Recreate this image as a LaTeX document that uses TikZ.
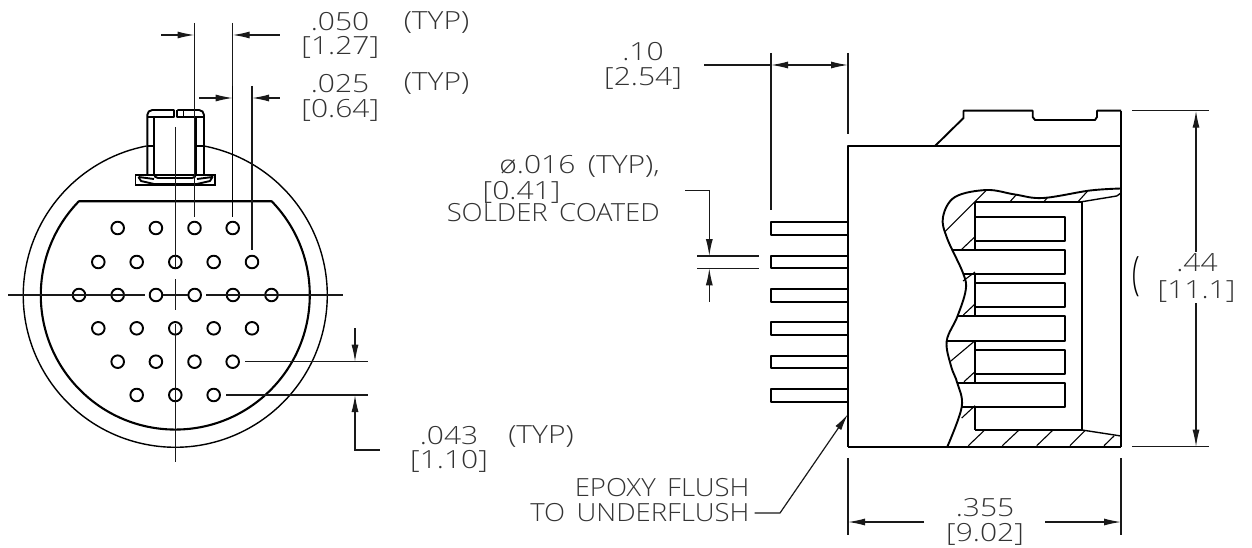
\documentclass[tikz,border=0pt]{standalone}
\usepackage{fontspec}
\setmainfont[UprightFont=* Light, FakeStretch=1.2, WordSpace=1.6]{Open Sans}
\newfontfamily\notefont[UprightFont=* Light, FakeStretch=1.1, WordSpace=1.6]{Open Sans}
\usetikzlibrary{arrows.meta}
\tikzset{
    part/.style={line width=1.9pt, line join=round},
    thin part/.style={line width=1.4pt},
    hatch/.style={line width=1.1pt},
    dim/.style={line width=1.2pt, black!90},
    txt/.style={inner sep=0pt, text=black!80, font=\fontsize{25}{25}\selectfont},
    note/.style={txt, font=\notefont\fontsize{25}{25}\selectfont},
    >={Latex[length=17pt,width=7pt]}
}
\begin{document}
\begin{tikzpicture}[x=1pt,y=-1pt]
    \useasboundingbox (0,0) rectangle (1252,548);

    % Front view, shell
    \draw[thin part] (204,146) arc[start angle=-79.1, end angle=259.1, radius=152];
    \draw[part, line width=2.1pt] (271.7,201.3) arc[start angle=-44.2, end angle=224.2, radius=134.5] -- cycle;

    % Front view, key
    \draw[part, rounded corners=5pt] (147.3,175)--(147.3,110)--(174.3,110);
    \draw[part, rounded corners=5pt] (204,175)--(204,110)--(177.3,110);
    \draw[part] (154,117)--(174.3,117)--(174.3,110);
    \draw[part] (147.3,117)--(154,117);
    \draw[part] (177.3,110)--(177.3,117)--(204,117);
    \draw[thin part] (183.3,110)--(183.3,117);
    \draw[part, rounded corners=4pt] (154,117)--(154,178)--(196,178)--(196,117);
    \draw[thin part] (147.3,146)--(154,146);
    \draw[thin part] (196,146)--(204,146);
    \draw[thin part] (135.5,175) rectangle (215,185);
    \draw[part] (138.5,177)--(141,181)--(154,184)--(197,184)--(210,181)--(212.5,177)--(197,179);
    \draw[part] (138.5,177)--(154,179);

    % Front view, contacts
    \draw[part] (117.7,228) circle (6.3) (155.9,228) circle (6.3) (194.5,228) circle (6.3) (232.7,228) circle (6.3);
    \draw[part] (98.3,262) circle (6.3) (136.7,262) circle (6.3) (175.3,262) circle (6.3) (213.7,262) circle (6.3) (252,262) circle (6.3);
    \draw[part] (79,295) circle (6.3) (117.7,295) circle (6.3) (156,295) circle (6.3) (194.7,295) circle (6.3) (233,295) circle (6.3) (271.5,295) circle (6.3);
    \draw[part] (98.3,328.3) circle (6.3) (136.7,328.3) circle (6.3) (175.3,328.3) circle (6.3) (213.7,328.3) circle (6.3) (252,328.3) circle (6.3);
    \draw[part] (117.7,361.7) circle (6.3) (155.9,361.7) circle (6.3) (194.5,361.7) circle (6.3) (232.7,361.7) circle (6.3);
    \draw[part] (136.7,395) circle (6.3) (175.3,395) circle (6.3) (213.7,395) circle (6.3);

    % Center lines
    \draw[dim] (8,295)--(145,295);
    \draw[dim] (206,295)--(343,295);
    \draw[dim] (163,295)--(188,295);
    \draw[dim] (175.3,279)--(175.3,310);
    \draw[dim] (175.3,127)--(175.3,268);
    \draw[dim] (175.3,324)--(175.3,462);

    % .050
    \draw[dim] (194.5,23)--(194.5,217);
    \draw[dim] (232.7,23)--(232.7,86);
    \draw[thin part] (232.7,86)--(232.7,217);
    \draw[dim, ->] (161,35)--(194.5,35);
    \draw[dim, ->] (279.5,35)--(232.7,35);
    \node[txt] (dimAin) at (340,22) {.050};
    \node[txt] (dimAmm) at (340.3,47) {[1.27]};
    \node[txt] (dimAtyp) at (436.5,23) {(TYP)};

    % .025
    \draw[dim] (252,86)--(252,250);
    \draw[dim, ->] (199,98)--(232.7,98);
    \draw[dim, ->] (279.5,98)--(252,98);
    \node[txt] (dimBin) at (340,84) {.025};
    \node[txt] (dimBmm) at (340.3,110) {[0.64]};
    \node[txt] (dimBtyp) at (436.5,84) {(TYP)};

    % .043
    \draw[dim] (245,361.7)--(367.5,361.7);
    \draw[dim] (226,395)--(367.5,395);
    \draw[dim, ->] (355,328)--(355,361.7);
    \draw[dim, ->] (379.5,450)--(355,450)--(355,395);
    \node[txt] (dimCin) at (449,436) {.043};
    \node[txt] (dimCmm) at (449,461) {[1.10]};
    \node[txt] (dimCtyp) at (541,437) {(TYP)};

    % Side view, body
    \draw[part] (848,446.7)--(848,146)--(1121,146);
    \draw[part] (848,446.7)--(1121,446.7);
    \draw[thin part] (1121,110.7)--(1121,446.7);
    \draw[part] (935,146)--(963.5,118)--(963.5,110.7)--(1032.7,110.7)--(1032.7,117)--(1035,120)--(1095,120)--(1097,117)--(1097,110.7)--(1121,110.7);

    % Break line
    \draw[part] plot[smooth, tension=.6] coordinates {(1121,188.5) (1090,190.5) (1043,198) (1015,194.5) (986.7,190) (955,197) (943,217) (947,238) (963,273) (965.7,290) (957.3,316.7) (946.7,341) (951,366) (957.3,383) (961.7,407) (947.3,446.7)};

    % Cavity
    \draw[part] (975,201.7)--(1082,201.7)--(1082,430)--(975,430);
    \draw[part] (975,201.7)--(975,250);
    \draw[part] (975,274)--(975,316.3);
    \draw[part] (975,340.7)--(975,383.3);
    \draw[part] (975,407)--(975,430);
    \draw[thin part] (1082,201.7)--(1116.7,196)--(1121,193);
    \draw[thin part] (1082,430)--(1121,436);

    % Pins inside
    \draw[part] (975,216.7) rectangle (1065,240.7);
    \draw[part] (953,250)--(1065,250)--(1065,274)--(962.7,274);
    \draw[part] (975,283.3) rectangle (1065,307.3);
    \draw[part] (957,316.3)--(1065,316.3)--(1065,340.7)--(946.7,340.7);
    \draw[part] (975,350) rectangle (1065,374);
    \draw[part] (957,383.3)--(1065,383.3)--(1065,407)--(961.7,407);

    % Pins outside
    \draw[part] (848,222.3)--(771,222.3)--(771,235)--(848,235);
    \draw[part] (848,255.7)--(771,255.7)--(771,268)--(848,268);
    \draw[part] (848,289)--(771,289)--(771,301.7)--(848,301.7);
    \draw[part] (848,322.3)--(771,322.3)--(771,335)--(848,335);
    \draw[part] (848,355.7)--(771,355.7)--(771,368)--(848,368);
    \draw[part] (848,389)--(771,389)--(771,401.7)--(848,401.7);

    % Hatching
    \draw[hatch] (945,231.7)--(986.7,190);
    \draw[hatch] (961.7,249.3)--(975,236.7);
    \draw[hatch] (1010,201.7)--(1016,195);
    \draw[hatch] (1044,201.7)--(1047,198);
    \draw[hatch] (1078,201.7)--(1087,191.7);
    \draw[hatch] (963,281)--(975,272);
    \draw[hatch] (963.3,315)--(975,304);
    \draw[hatch] (950,361.7)--(975,340.7);
    \draw[hatch] (964,381.7)--(975,371.7);
    \draw[hatch] (961.7,418)--(975,405.7);
    \draw[hatch] (968.3,445.7)--(984,430.7);
    \draw[hatch] (1002.3,445.7)--(1018.3,430.7);
    \draw[hatch] (1036.7,445.7)--(1052.3,430.7);
    \draw[hatch] (1070,445.7)--(1085,430.7);
    \draw[hatch] (1104,445.7)--(1114,436);

    % .10
    \draw[dim] (771,53)--(771,210);
    \draw[dim] (848,53)--(848,134);
    \draw[dim, <->] (771,65)--(848,65);
    \draw[dim] (704,65)--(771,65);
    \node[txt] (dimDin) at (643,52) {.10};
    \node[txt] (dimDmm) at (643,78) {[2.54]};

    % .016
    \draw[dim] (697.3,256)--(759.3,256);
    \draw[dim] (697.3,268.3)--(759.3,268.3);
    \draw[dim, ->] (685,190.7)--(709.3,190.7)--(709.3,256);
    \draw[dim, ->] (709.3,301.7)--(709.3,268.3);
    \node[txt, anchor=east] (dimEin) at (660,166) {ø.016 (TYP),};
    \node[txt] (dimEmm) at (521.5,192) {[0.41]};
    \node[note, anchor=east] (dimEnote) at (660,213) {SOLDER COATED};

    % .44
    \draw[dim] (1132,110.7)--(1208.7,110.7);
    \draw[dim] (1132,446.7)--(1208.7,446.7);
    \draw[dim, ->] (1196,252)--(1196,110.7);
    \draw[dim, ->] (1196,303)--(1196,446.7);
    \node[txt] (dimFin) at (1197,263) {.44};
    \node[txt] (dimFmm) at (1196.5,292) {[11.1]};
    \node[txt, text=black, font=\fontsize{46}{46}\selectfont, transform shape, xscale=.5] (dimFpar) at (1136,277) {(};

    % .355
    \draw[dim] (848,458)--(848,535);
    \draw[dim] (1121,458)--(1121,535);
    \draw[dim, ->] (924,522)--(848,522);
    \draw[dim, ->] (1045,522)--(1121,522);
    \node[txt] (dimGin) at (985,508) {.355};
    \node[txt] (dimGmm) at (985,534) {[9.02]};

    % Epoxy note
    \node[note, anchor=east] (noteA) at (749.6,488) {EPOXY FLUSH};
    \node[note, anchor=east] (noteB) at (749.6,513) {TO UNDERFLUSH};
    \coordinate (noteTip) at (848,414);
    \draw[dim, ->] (noteB.east)++(5,0)--(780,513)--(noteTip);
\end{tikzpicture}
\end{document}
